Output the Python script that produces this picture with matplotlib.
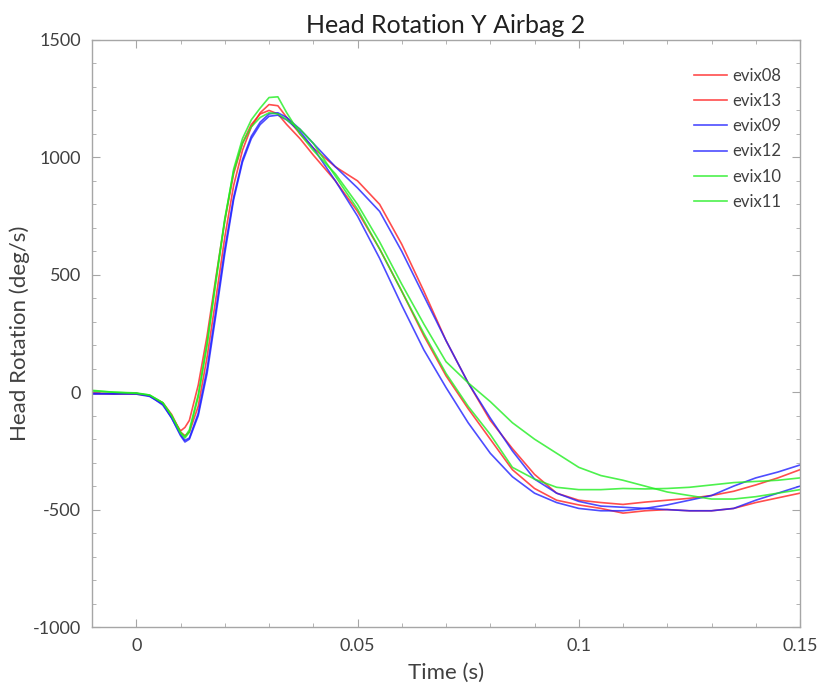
import matplotlib
matplotlib.use("Agg")
import matplotlib.pyplot as plt
from matplotlib.ticker import MultipleLocator, FuncFormatter

plt.rcParams["font.family"] = ["Lato", "DejaVu Sans"]

# time base (s)
time_s = [-0.010, -0.005, 0.000, 0.003, 0.006, 0.008, 0.010, 0.011, 0.012, 0.014,
          0.016, 0.018, 0.020, 0.022, 0.024, 0.026, 0.028, 0.030, 0.032, 0.034,
          0.037, 0.040, 0.045, 0.050, 0.055, 0.060, 0.065, 0.070, 0.075, 0.080,
          0.085, 0.090, 0.095, 0.100, 0.105, 0.110, 0.115, 0.120, 0.125, 0.130,
          0.135, 0.140, 0.145, 0.150]

# head rotation (deg/s)
evix08 = [-5, -5, -8, -15, -45, -95, -170, -185, -170, -60,
          150, 400, 660, 880, 1030, 1130, 1190, 1225, 1220, 1170,
          1100, 1040, 960, 900, 800, 630, 430, 220, 40, -120,
          -240, -350, -430, -460, -470, -478, -468, -460, -452, -440,
          -422, -395, -365, -330]
evix13 = [-5, -8, -5, -15, -50, -105, -165, -150, -120, 30,
          240, 490, 730, 930, 1060, 1140, 1185, 1200, 1185, 1140,
          1080, 1010, 900, 770, 610, 430, 240, 70, -70, -200,
          -330, -410, -460, -480, -495, -515, -505, -500, -505, -505,
          -495, -470, -450, -430]
evix09 = [-8, -5, -8, -18, -50, -110, -185, -212, -200, -100,
          80, 330, 590, 820, 980, 1080, 1140, 1175, 1180, 1160,
          1110, 1040, 900, 750, 570, 370, 180, 20, -130, -260,
          -360, -430, -470, -495, -505, -505, -495, -480, -460, -440,
          -400, -365, -340, -310]
evix12 = [-5, -8, -5, -15, -55, -110, -180, -205, -195, -90,
          100, 350, 610, 830, 990, 1090, 1150, 1185, 1190, 1170,
          1120, 1060, 960, 870, 770, 600, 410, 220, 40, -110,
          -250, -370, -430, -465, -485, -490, -495, -500, -505, -505,
          -495, -460, -430, -400]
evix10 = [5, 0, -3, -12, -45, -100, -175, -195, -170, -20,
          200, 470, 730, 950, 1080, 1160, 1210, 1255, 1258, 1190,
          1100, 1030, 930, 800, 640, 460, 290, 130, 40, -40,
          -130, -200, -260, -320, -355, -375, -400, -425, -440, -455,
          -455, -445, -430, -415]
evix11 = [8, 0, -5, -12, -45, -100, -170, -190, -160, -10,
          210, 480, 740, 940, 1060, 1130, 1170, 1190, 1185, 1160,
          1120, 1060, 920, 780, 610, 430, 250, 80, -60, -180,
          -320, -370, -405, -415, -415, -410, -412, -410, -405, -395,
          -385, -380, -375, -365]

series = [("evix08", evix08, "#ff2020"), ("evix13", evix13, "#ff2020"),
          ("evix09", evix09, "#2020ff"), ("evix12", evix12, "#2020ff"),
          ("evix10", evix10, "#20ee20"), ("evix11", evix11, "#20ee20")]

fig = plt.figure(figsize=(8.18, 6.86), dpi=100)
ax = fig.add_axes([0.1125, 0.086, 0.8655, 0.8557])

for name, vals, col in series:
    ax.plot(time_s, vals, color=col, lw=1.2, alpha=0.8, label=name)

ax.set_xlim(-0.01, 0.15)
ax.set_ylim(-1000, 1500)

ax.xaxis.set_major_locator(MultipleLocator(0.05))
ax.xaxis.set_minor_locator(MultipleLocator(0.01))
ax.yaxis.set_major_locator(MultipleLocator(500))
ax.yaxis.set_minor_locator(MultipleLocator(100))
ax.xaxis.set_major_formatter(FuncFormatter(lambda v, p: "%g" % round(v, 4)))
ax.yaxis.set_major_formatter(FuncFormatter(lambda v, p: "%d" % v))

grey = "#a6a6a6"
for s in ax.spines.values():
    s.set_color(grey)
    s.set_linewidth(1.0)
ax.tick_params(which="both", direction="in", top=True, right=True,
               color=grey, labelcolor="#404040", labelsize=13)
ax.tick_params(which="major", length=6, pad=8)
ax.tick_params(which="minor", length=3)

ax.set_xlabel("Time (s)", fontsize=16, color="#404040", labelpad=6)
ax.set_ylabel("Head Rotation (deg/s)", fontsize=16, color="#404040", labelpad=2)
ax.set_title("Head Rotation Y Airbag 2", fontsize=18, color="#202020", pad=5)

leg = ax.legend(loc="upper right", frameon=False, fontsize=12,
                handlelength=2.0, handletextpad=0.3, labelspacing=0.55,
                bbox_to_anchor=(0.995, 0.978))
for t in leg.get_texts():
    t.set_color("#404040")

fig.savefig("out.png", dpi=100)
